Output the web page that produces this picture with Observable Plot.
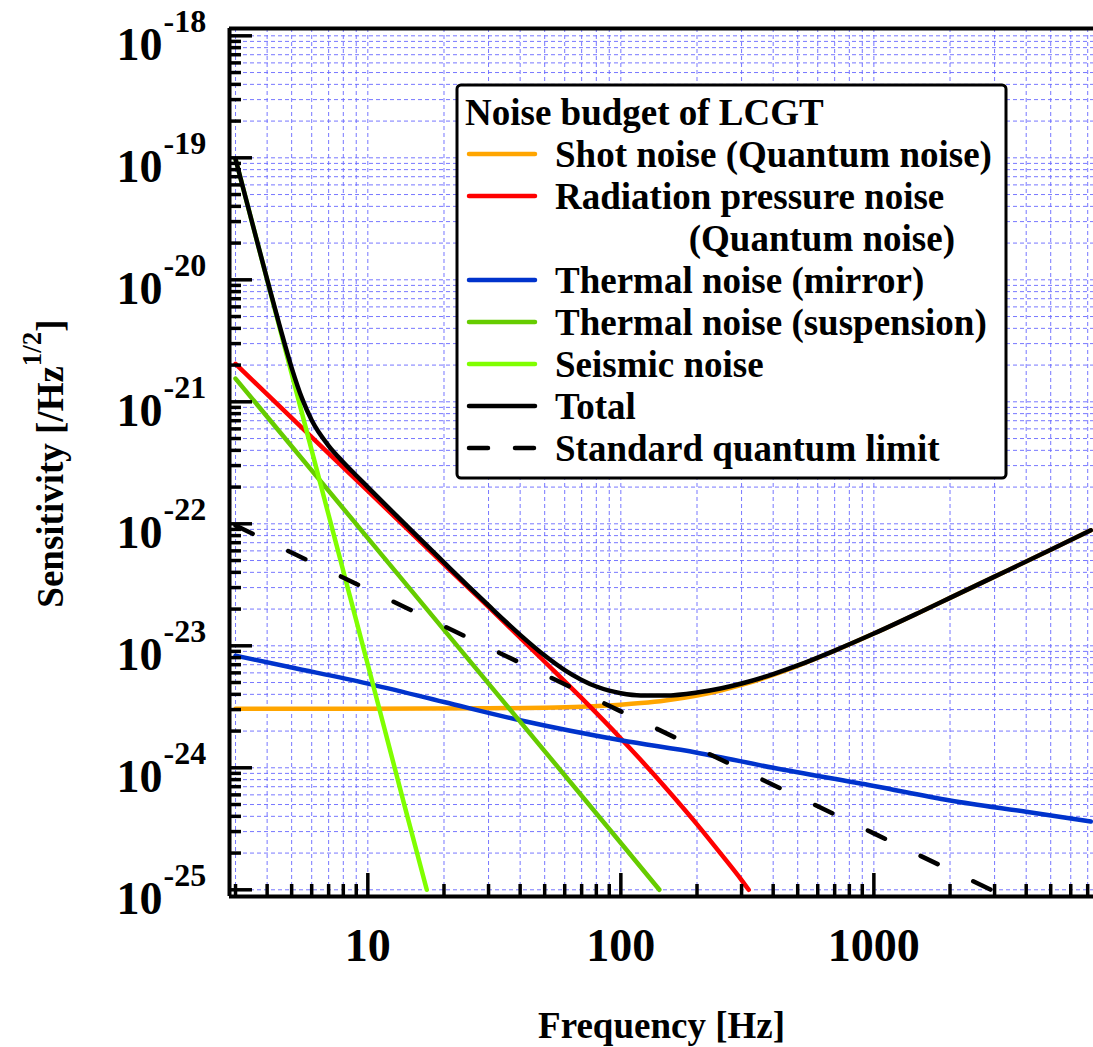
<!DOCTYPE html>
<html><head><meta charset="utf-8">
<script src="https://cdn.jsdelivr.net/npm/d3@7"></script>
<script src="https://cdn.jsdelivr.net/npm/@observablehq/plot@0.6"></script>
<style>
html,body{margin:0;padding:0;background:#fff;}
#chart svg{display:block;}
</style></head><body><div id="chart"></div>
<script>
const FONT = '"Liberation Serif","Times New Roman",Times,serif';

// ---- data (values in units of 1e-24 /Hz^1/2) ----
const unit = 1e-24;
const legendTitle = "Noise budget of LCGT";
const seriesNames = [
  ["Shot noise (Quantum noise)"],
  ["Radiation pressure noise", "(Quantum noise)"],
  ["Thermal noise (mirror)"],
  ["Thermal noise (suspension)"],
  ["Seismic noise"],
  ["Total"],
  ["Standard quantum limit"]
];
const seriesColors = ["#FFA500", "#FF0000", "#0033CC", "#66CC00", "#80FF00", "#000000", "#000000"];
const seriesDashed = [false, false, false, false, false, false, true];

const shotFreq  = [3, 10, 30, 50, 70, 100, 120, 150, 200, 250, 300, 400, 500, 700, 1000, 1500, 2000, 3000, 5000, 7200];
const shotValue = [3.05, 3.05, 3.07, 3.11, 3.17, 3.29, 3.39, 3.56, 3.91, 4.32, 4.78, 5.77, 6.84, 9.10, 12.6, 18.6, 24.7, 36.9, 61.3, 88.5];

const radiationFreq  = [3, 5, 10, 20, 30, 50, 70, 100, 120, 150, 200, 250, 300, 320];
const radiationValue = [2050, 738, 186, 46.5, 20.8, 7.4, 3.72, 1.74, 1.157, 0.690, 0.344, 0.194, 0.120, 0.100];

const mirrorFreq  = [3, 5, 10, 20, 40, 100, 200, 400, 1000, 2000, 4000, 7200];
const mirrorValue = [8.3, 6.64, 4.9, 3.46, 2.45, 1.68, 1.33, 1.0, 0.71, 0.54, 0.436, 0.363];

const suspensionFreq  = [3, 10, 30, 100, 142];
const suspensionValue = [1550, 76.4, 4.90, 0.242, 0.100];

const seismicFreq  = [3, 4, 5, 6, 7, 8, 10, 12, 14, 17.1];
const seismicValue = [97700, 9980, 1700, 400, 118, 41, 7.0, 1.64, 0.48, 0.10];

const totalFreq  = [3, 3.5, 4, 4.5, 5, 5.5, 6, 7, 8, 9, 10, 12, 15, 20, 25, 30, 40, 50, 60, 70, 80, 90, 100, 120, 150, 200, 250, 300, 400, 500, 700, 1000, 1500, 2000, 3000, 5000, 7200];
const totalValue = [97730, 28830, 10070, 4070, 1900, 1061, 706, 436, 320, 249, 200, 137, 86.6, 48.2, 30.7, 21.4, 12.3, 8.32, 6.32, 5.25, 4.64, 4.29, 4.09, 3.92, 3.91, 4.14, 4.49, 4.91, 5.86, 6.90, 9.14, 12.6, 18.6, 24.7, 36.9, 61.3, 88.5];

const sqlFreq  = [3, 10, 100, 1000, 2900];
const sqlValue = [96.7, 29.0, 2.90, 0.290, 0.100];

// ---- ticks ----
const xMajor = [10, 100, 1000];
const xMinor = [3, 4, 5, 6, 7, 8, 9, 20, 30, 40, 50, 60, 70, 80, 90, 200, 300, 400, 500, 600, 700, 800, 900, 2000, 3000, 4000, 5000, 6000, 7000];
const yMajor = [1e-25, 1e-24, 1e-23, 1e-22, 1e-21, 1e-20, 1e-19, 1e-18];
const minorMult = [2, 3, 4, 5, 6, 7, 8, 9];
const yMinor = yMajor.slice(0, -1).flatMap(d => minorMult.map(m => m * d));

// ---- layout ----
const W = 1093, H = 1047, mL = 229, mR = 0, mT = 28, mB = 151;
const plotW = W - mL - mR, plotH = H - mT - mB;
const xDomain = [2.84, 7380];
const yDomain = [Math.pow(10, -25.055), Math.pow(10, -17.94)];

const mk = (freq, value) => freq.map((f, i) => ({f, h: value[i] * unit}));
const seriesData = [
  mk(shotFreq, shotValue),
  mk(radiationFreq, radiationValue),
  mk(mirrorFreq, mirrorValue),
  mk(suspensionFreq, suspensionValue),
  mk(seismicFreq, seismicValue),
  mk(totalFreq, totalValue),
  mk(sqlFreq, sqlValue)
];

const gridStyle = {stroke: "#6868ff", strokeWidth: 1, strokeDasharray: "4,3", strokeOpacity: 0.9};
const lineW = 4.5;

const lineMarks = seriesData.map((data, i) => Plot.line(data, {
  x: "f", y: "h", stroke: seriesColors[i], strokeWidth: lineW,
  strokeLinecap: "round", strokeLinejoin: "round", curve: "monotone-x",
  strokeDasharray: seriesDashed[i] ? "19,39.5" : null
}));

const chart = Plot.plot({
  width: W, height: H,
  marginLeft: mL, marginRight: mR, marginTop: mT, marginBottom: mB,
  x: {type: "log", domain: xDomain, axis: null},
  y: {type: "log", domain: yDomain, axis: null},
  style: {fontFamily: FONT, background: "#fff", color: "#000"},
  marks: [
    Plot.ruleX(xMajor.concat(xMinor), gridStyle),
    Plot.ruleY(yMajor.concat(yMinor), gridStyle),
    ...lineMarks,
    Plot.tickY(yMajor, {insetRight: plotW - 23, stroke: "#000", strokeWidth: 3.5}),
    Plot.tickY(yMinor, {insetRight: plotW - 12, stroke: "#000", strokeWidth: 3.5}),
    Plot.tickX(xMajor, {insetTop: plotH - 23, stroke: "#000", strokeWidth: 3.5}),
    Plot.tickX(xMinor, {insetTop: plotH - 12, stroke: "#000", strokeWidth: 3.5}),
    Plot.ruleX([xDomain[0]], {stroke: "#000", strokeWidth: 4}),
    Plot.ruleY([yDomain[0], yDomain[1]], {stroke: "#000", strokeWidth: 4}),
    Plot.text(yMajor, {y: d => d, frameAnchor: "left", text: () => "10", textAnchor: "end", lineAnchor: "middle",
      dx: -67, dy: 9.3, fontSize: 46, fontWeight: "bold", fontFamily: FONT, fill: "#000"}),
    Plot.text(yMajor, {y: d => d, frameAnchor: "left", text: d => String(Math.round(Math.log10(d))), textAnchor: "start", lineAnchor: "middle",
      dx: -66, dy: -13.7, fontSize: 32, fontWeight: "bold", fontFamily: FONT, fill: "#000"}),
    Plot.text(xMajor, {x: d => d, frameAnchor: "bottom", text: d => String(d), textAnchor: "middle", lineAnchor: "middle",
      dy: 49.3, fontSize: 46, fontWeight: "bold", fontFamily: FONT, fill: "#000"}),
    Plot.text(["Frequency [Hz]"], {frameAnchor: "bottom", text: d => d, textAnchor: "middle", lineAnchor: "middle",
      dy: 130, fontSize: 37, fontWeight: "bold", fontFamily: FONT, fill: "#000"})
  ]
});

document.getElementById("chart").appendChild(chart);

// ---- y-axis label with superscript ----
const svg = d3.select(chart);
const yl = svg.append("text")
  .attr("transform", "translate(63,463.5) rotate(-90)")
  .attr("text-anchor", "middle")
  .attr("font-family", FONT).attr("font-weight", "bold").attr("font-size", 37).attr("fill", "#000");
yl.append("tspan").text("Sensitivity [/Hz");
yl.append("tspan").attr("font-size", 27).attr("dy", -22).text("1/2");
yl.append("tspan").attr("dy", 22).text("]");

// ---- legend ----
const lg = svg.append("g").attr("font-family", FONT).attr("font-weight", "bold").attr("font-size", 37)
  .attr("fill", "#000").attr("text-anchor", "start");
lg.append("rect").attr("x", 457).attr("y", 85).attr("width", 549).attr("height", 393).attr("rx", 4)
  .attr("fill", "#fff").attr("stroke", "#000").attr("stroke-width", 3);
lg.append("text").attr("x", 465).attr("y", 125).attr("text-anchor", "start").text(legendTitle);
let row = 0;
seriesNames.forEach((lines, i) => {
  const base = 167 + row * 42;
  lg.append("line").attr("x1", 469).attr("x2", 535).attr("y1", base - 13).attr("y2", base - 13)
    .attr("stroke", seriesColors[i]).attr("stroke-width", lineW).attr("stroke-linecap", "round")
    .attr("stroke-dasharray", seriesDashed[i] ? "19,27" : null);
  lg.append("text").attr("x", 555).attr("y", base).attr("text-anchor", "start").text(lines[0]);
  row++;
  for (let k = 1; k < lines.length; k++) {
    lg.append("text").attr("x", 955).attr("y", 167 + row * 42).attr("text-anchor", "end").text(lines[k]);
    row++;
  }
});
</script>
</body></html>
